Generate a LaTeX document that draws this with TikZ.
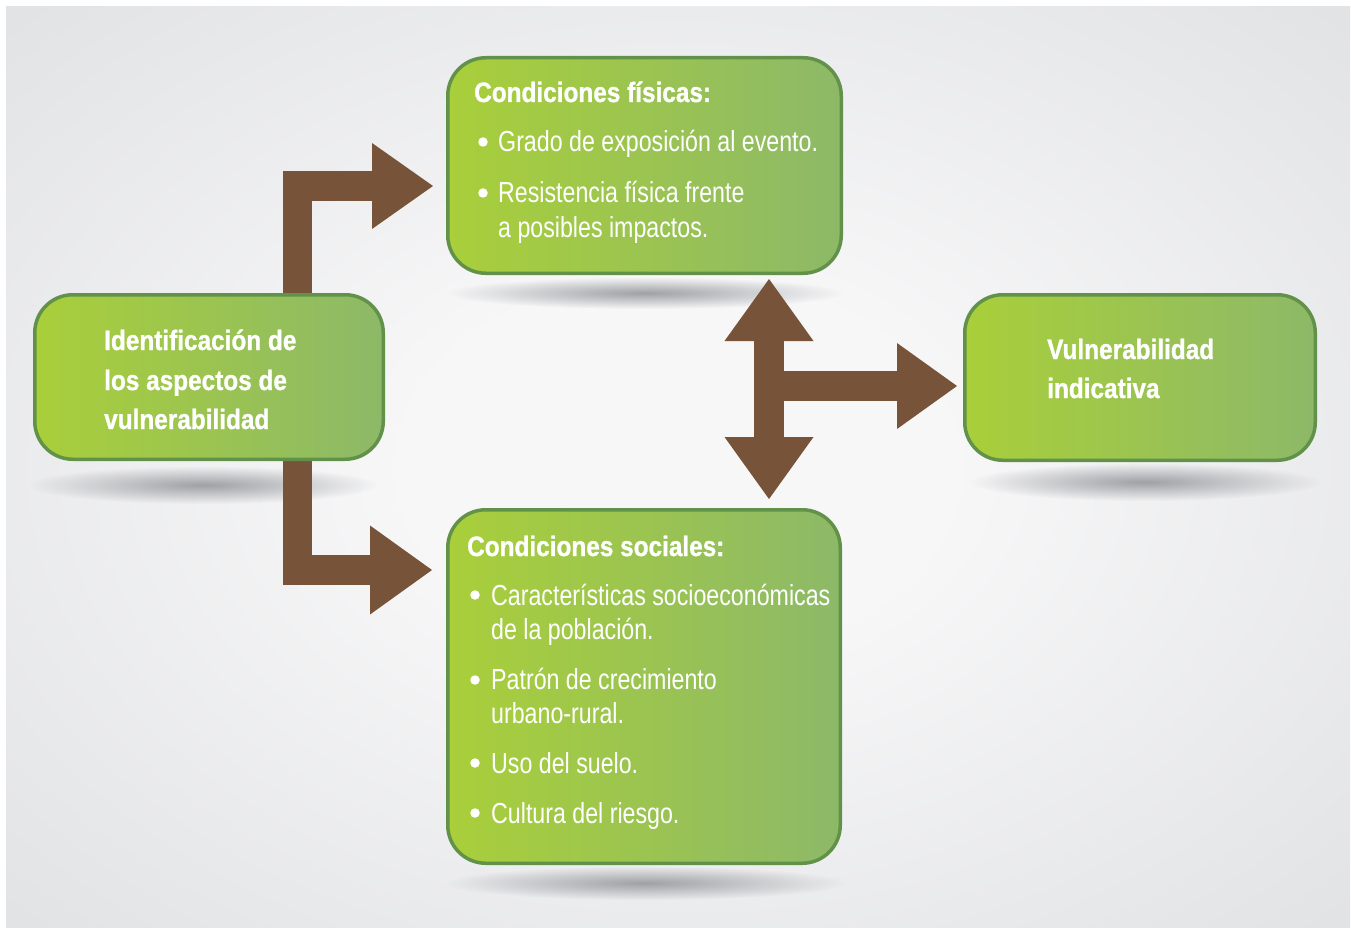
\documentclass[tikz,border=0pt]{standalone}
\usepackage{fontspec}
\setmainfont[FakeStretch=0.8]{Liberation Sans}
\newfontfamily\headfont[FakeStretch=0.87,FakeBold=1]{Liberation Sans}
\usetikzlibrary{arrows.meta,fadings}
\definecolor{bgin}{HTML}{F7F7F8}
\definecolor{bgout}{HTML}{E1E2E4}
\definecolor{boxleft}{HTML}{A9CF3A}
\definecolor{boxright}{HTML}{8DB968}
\definecolor{boxedge}{HTML}{62924A}
\definecolor{arrowbrown}{HTML}{77533A}
\definecolor{shadowgray}{HTML}{9FA1A5}
\pgfdeclareradialshading{bgshade}{\pgfpoint{0bp}{0bp}}{color(0bp)=(bgin); color(10bp)=(bgin); color(36bp)=(bgout); color(50bp)=(bgout)}
\tikzfading[name=shfade, inner color=transparent!0, outer color=transparent!100]
\begin{document}
\begin{tikzpicture}[x=1pt,y=-1pt,
  box/.style={draw=boxedge, line width=3.5pt, rounded corners=38pt, left color=boxleft, right color=boxright, inner sep=0pt, outer sep=0pt},
  titletxt/.style={anchor=base west, inner sep=0pt, text=white, font=\headfont\bfseries\fontsize{28}{34}\selectfont},
  bodytxt/.style={anchor=base west, inner sep=0pt, text=white, font=\fontsize{29}{35}\selectfont},
  bdot/.style={circle, fill=white, minimum size=9.5pt, inner sep=0pt},
  shaft/.style={draw=arrowbrown, line width=29.5pt, line cap=butt, line join=miter},
  shadowell/.style={fill=shadowgray, path fading=shfade}
]
\fill[white] (0,0) rectangle (1351,928);
\useasboundingbox (0,0) rectangle (1351,928);
\shade[shading=bgshade] (6,7) rectangle (1350,927);

% shadows
\fill[shadowell] (645,293) ellipse [x radius=198pt, y radius=16pt];
\fill[shadowell] (203,485) ellipse [x radius=175pt, y radius=19pt];
\fill[shadowell] (1145,482) ellipse [x radius=176pt, y radius=19pt];
\fill[shadowell] (645,883) ellipse [x radius=200pt, y radius=17pt];

% connector end points
\coordinate (a1s) at (297.5,300);
\coordinate (a1e) at (433,186);
\coordinate (a2s) at (297.5,455);
\coordinate (a2e) at (432,570);
\coordinate (c1) at (769,279);
\coordinate (c2) at (769,499);
\coordinate (c3) at (769,386);
\coordinate (c4) at (957,386);

% block arrows
\draw[shaft, -{Triangle[length=61pt, width=86pt, line width=0pt]}] (a1s) |- (a1e);
\draw[shaft, -{Triangle[length=62pt, width=89pt, line width=0pt]}] (a2s) |- (a2e);
\draw[shaft, {Triangle[length=62pt, width=89pt, line width=0pt]}-{Triangle[length=62pt, width=89pt, line width=0pt]}] (c1) -- (c2);
\draw[shaft, -{Triangle[length=60pt, width=86pt, line width=0pt]}] (c3) -- (c4);

% boxes
\node[box, minimum width=393.5pt, minimum height=215.5pt] (fis) at (644.5,165.5) {};
\node[box, minimum width=392.5pt, minimum height=353.5pt] (soc) at (644,686.5) {};
\node[box, minimum width=348.5pt, minimum height=164.5pt] (ident) at (209,377) {};
\node[box, minimum width=350.5pt, minimum height=165.5pt] (vul) at (1140,377.5) {};

% texts: left box
\node[titletxt] (t1) at (104,350) {Identificación de};
\node[titletxt] (t2) at (104,390) {los aspectos de};
\node[titletxt] (t3) at (104,429) {vulnerabilidad};

% right box
\node[titletxt] (v1) at (1047,359) {Vulnerabilidad};
\node[titletxt] (v2) at (1047,398) {indicativa};

% top box
\node[titletxt] (f0) at (474,102) {Condiciones físicas:};
\node[bdot] (fb1) at (483,142) {};
\node[bodytxt] (f1) at (498,152) {Grado de exposición al evento.};
\node[bdot] (fb2) at (483,193) {};
\node[bodytxt] (f2) at (498,203) {Resistencia física frente};
\node[bodytxt] (f3) at (498,237) {a posibles impactos.};

% bottom box
\node[titletxt] (s0) at (467,556) {Condiciones sociales:};
\node[bdot] (sb1) at (475,595) {};
\node[bodytxt] (s1) at (491,605) {Características socioeconómicas};
\node[bodytxt] (s2) at (491,639) {de la población.};
\node[bdot] (sb2) at (475,680) {};
\node[bodytxt] (s3) at (491,689) {Patrón de crecimiento};
\node[bodytxt] (s4) at (491,723) {urbano-rural.};
\node[bdot] (sb3) at (475,763) {};
\node[bodytxt] (s5) at (491,773) {Uso del suelo.};
\node[bdot] (sb4) at (475,813) {};
\node[bodytxt] (s6) at (491,823) {Cultura del riesgo.};
\end{tikzpicture}
\end{document}
